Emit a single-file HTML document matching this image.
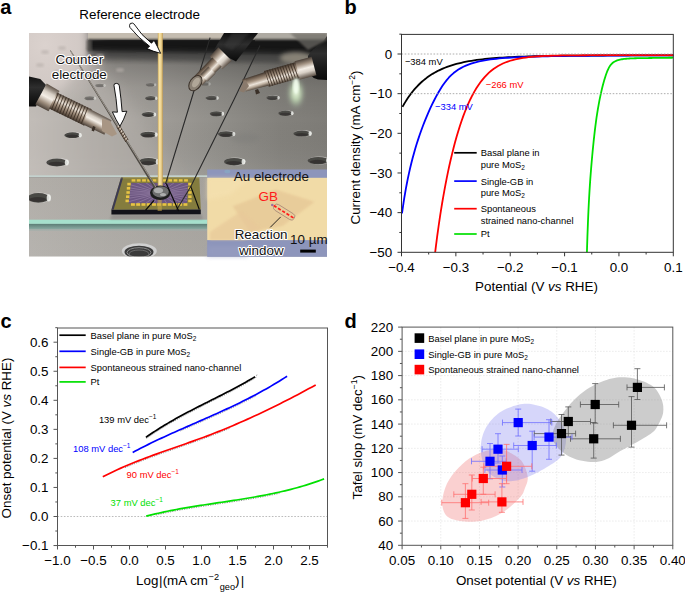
<!DOCTYPE html>
<html><head><meta charset="utf-8"><title>Figure</title>
<style>html,body{margin:0;padding:0;background:#fff;width:685px;height:592px;overflow:hidden}svg{display:block}text{font-family:"Liberation Sans",sans-serif}</style>
</head><body>
<svg width="685" height="592" viewBox="0 0 685 592" font-family="Liberation Sans, sans-serif">
<defs>
<clipPath id="pc"><rect x="29" y="33" width="298" height="223.5"/></clipPath>
<linearGradient id="midh" x1="29" y1="0" x2="327" y2="0" gradientUnits="userSpaceOnUse">
 <stop offset="0" stop-color="#bcb7b2"/><stop offset="0.2" stop-color="#aca8a3"/><stop offset="0.44" stop-color="#9f9c97"/><stop offset="0.66" stop-color="#8f8d88"/><stop offset="0.84" stop-color="#83817c"/><stop offset="1" stop-color="#7e7c77"/></linearGradient>
<linearGradient id="midv" x1="0" y1="50" x2="0" y2="176" gradientUnits="userSpaceOnUse">
 <stop offset="0" stop-color="#000" stop-opacity="0.7"/><stop offset="0.05" stop-color="#000" stop-opacity="0.42"/><stop offset="0.12" stop-color="#000" stop-opacity="0.2"/><stop offset="0.3" stop-color="#000" stop-opacity="0.07"/><stop offset="0.55" stop-color="#000" stop-opacity="0.0"/><stop offset="1" stop-color="#fff" stop-opacity="0.08"/></linearGradient>
<linearGradient id="lightw" x1="29" y1="0" x2="180" y2="0" gradientUnits="userSpaceOnUse">
 <stop offset="0" stop-color="#c6c1bc"/><stop offset="0.5" stop-color="#b7b2ad"/><stop offset="1" stop-color="#aaa6a1"/></linearGradient>
<radialGradient id="tlr" cx="45" cy="45" r="65" gradientUnits="userSpaceOnUse">
 <stop offset="0" stop-color="#dbd2ce"/><stop offset="0.45" stop-color="#d4cbc7" stop-opacity="0.8"/><stop offset="1" stop-color="#cfc7c3" stop-opacity="0"/></radialGradient>
<linearGradient id="low" x1="0" y1="176" x2="0" y2="257" gradientUnits="userSpaceOnUse">
 <stop offset="0" stop-color="#a9a59f"/><stop offset="1" stop-color="#aeaba6"/></linearGradient>
<linearGradient id="lowh" x1="29" y1="0" x2="327" y2="0" gradientUnits="userSpaceOnUse">
 <stop offset="0" stop-color="#fff" stop-opacity="0.1"/><stop offset="1" stop-color="#000" stop-opacity="0.05"/></linearGradient>
<linearGradient id="rod" x1="0" y1="0" x2="1" y2="0">
 <stop offset="0" stop-color="#c8a458"/><stop offset="0.3" stop-color="#f6e2a4"/><stop offset="0.65" stop-color="#eed594"/><stop offset="1" stop-color="#c09a50"/></linearGradient>
<linearGradient id="metal" x1="0" y1="0" x2="0" y2="1">
 <stop offset="0" stop-color="#4a3e34"/><stop offset="0.22" stop-color="#bcae9e"/><stop offset="0.38" stop-color="#ece4da"/><stop offset="0.6" stop-color="#a89684"/><stop offset="0.85" stop-color="#6a5a4c"/><stop offset="1" stop-color="#3a3028"/></linearGradient>
<linearGradient id="metal2" x1="0" y1="0" x2="0" y2="1">
 <stop offset="0" stop-color="#5a4e44"/><stop offset="0.3" stop-color="#d8d0c6"/><stop offset="0.5" stop-color="#f4eee6"/><stop offset="0.75" stop-color="#a09080"/><stop offset="1" stop-color="#4a4038"/></linearGradient>
<linearGradient id="cable" x1="0" y1="0" x2="0" y2="1">
 <stop offset="0" stop-color="#0e0e0e"/><stop offset="0.4" stop-color="#2e2e2e"/><stop offset="0.7" stop-color="#1a1a1a"/><stop offset="1" stop-color="#0a0a0a"/></linearGradient>
<radialGradient id="glow" cx="0.5" cy="0.5" r="0.5">
 <stop offset="0" stop-color="#f4ffe8"/><stop offset="0.45" stop-color="#d0ecc0" stop-opacity="0.8"/><stop offset="1" stop-color="#a0b8a0" stop-opacity="0"/></radialGradient>
<linearGradient id="gfront" x1="0" y1="0" x2="0" y2="1"><stop offset="0" stop-color="#5c7e76"/><stop offset="1" stop-color="#8caaa2"/></linearGradient>
<filter id="b05"><feGaussianBlur stdDeviation="0.5"/></filter>
<filter id="b1"><feGaussianBlur stdDeviation="1"/></filter>
<filter id="b2" x="-50%" y="-50%" width="200%" height="200%"><feGaussianBlur stdDeviation="2"/></filter>
<filter id="b4" x="-50%" y="-50%" width="200%" height="200%"><feGaussianBlur stdDeviation="4"/></filter>
<filter id="b8" x="-50%" y="-50%" width="200%" height="200%"><feGaussianBlur stdDeviation="8"/></filter>
<filter id="halo" x="-10%" y="-30%" width="120%" height="160%"><feMorphology in="SourceAlpha" operator="dilate" radius="1" result="d"/><feGaussianBlur in="d" stdDeviation="0.4" result="d2"/><feFlood flood-color="#fff"/><feComposite in2="d2" operator="in" result="w"/><feMerge><feMergeNode in="w"/><feMergeNode in="SourceGraphic"/></feMerge></filter>
<clipPath id="chipc"><path d="M131,183 L188,183 L187,203.5 L128.5,203.5 Z"/></clipPath>
</defs>
<g clip-path="url(#pc)">
<rect x="29" y="33" width="298" height="145" fill="url(#midh)"/>
<rect x="29" y="33" width="298" height="145" fill="url(#midv)"/>
<path d="M10,20 L88,20 L88,50 L100,70 L118,92 L150,130 L178,178 L10,178 Z" fill="url(#lightw)" opacity="0.6" filter="url(#b8)"/>
<path d="M20,20 L86,20 L86,60 L60,90 L20,90 Z" fill="#d2cac6" filter="url(#b4)"/>
<rect x="0" y="0" width="200" height="160" fill="url(#tlr)"/>
<rect x="29" y="176" width="298" height="81" fill="url(#low)"/>
<rect x="29" y="176" width="298" height="81" fill="url(#lowh)"/>
<rect x="88" y="33" width="239" height="7" fill="#c4bcb0"/>
<rect x="255" y="33" width="72" height="9" fill="#aeaaa2"/>
<path d="M88,39.5 L327,39.5 L327,55 L88,51 Z" fill="#161616" filter="url(#b1)"/>
<path d="M88,49 L327,52 L327,64 L88,58 Z" fill="#3e3e3c" opacity="0.55" filter="url(#b2)"/>
<path d="M86,40 L92,40 L92,52 L86,50 Z" fill="#6a6864" opacity="0.6" filter="url(#b1)"/>
<ellipse cx="296" cy="58" rx="16" ry="6" fill="#8e887c" opacity="0.9" filter="url(#b2)"/>
<ellipse cx="45" cy="52" rx="4" ry="2" fill="#b8b0ac" opacity="0.6" filter="url(#b1)"/>
<ellipse cx="62" cy="48" rx="4" ry="2" fill="#b8b0ac" opacity="0.6" filter="url(#b1)"/>
<ellipse cx="80" cy="60" rx="4" ry="2" fill="#b8b0ac" opacity="0.6" filter="url(#b1)"/>
<ellipse cx="100" cy="56" rx="4" ry="2" fill="#b8b0ac" opacity="0.6" filter="url(#b1)"/>
<ellipse cx="58" cy="72" rx="4" ry="2" fill="#b8b0ac" opacity="0.6" filter="url(#b1)"/>
<ellipse cx="40" cy="65" rx="4" ry="2" fill="#b8b0ac" opacity="0.6" filter="url(#b1)"/>
<ellipse cx="120" cy="70" rx="4" ry="2" fill="#b8b0ac" opacity="0.6" filter="url(#b1)"/>
<ellipse cx="96" cy="75" rx="4" ry="2" fill="#b8b0ac" opacity="0.6" filter="url(#b1)"/>
<g opacity="0.55"><ellipse cx="90.5" cy="98.1" rx="5.5" ry="2.2" fill="#e8e8e6" opacity="0.55" filter="url(#b05)"/><ellipse cx="89.9" cy="98.2" rx="5.3" ry="2.0" fill="#4a4845" filter="url(#b05)"/><ellipse cx="89.6" cy="98.9" rx="4.0" ry="1.1" fill="#2a2826" opacity="0.6" filter="url(#b05)"/><ellipse cx="94.9" cy="98.2" rx="1.2" ry="1.5" fill="#f2f4f0" opacity="0.85" filter="url(#b05)"/></g>
<g opacity="0.8"><ellipse cx="151.4" cy="98.1" rx="6.0" ry="2.4" fill="#e8e8e6" opacity="0.55" filter="url(#b05)"/><ellipse cx="150.8" cy="98.2" rx="5.8" ry="2.2" fill="#4a4845" filter="url(#b05)"/><ellipse cx="150.5" cy="98.9" rx="4.3" ry="1.2" fill="#2a2826" opacity="0.6" filter="url(#b05)"/><ellipse cx="156.2" cy="98.2" rx="1.2" ry="1.7" fill="#f2f4f0" opacity="0.85" filter="url(#b05)"/></g>
<g opacity="0.8"><ellipse cx="212.3" cy="97.9" rx="6.5" ry="2.4" fill="#e8e8e6" opacity="0.55" filter="url(#b05)"/><ellipse cx="211.7" cy="98.0" rx="6.2" ry="2.2" fill="#4a4845" filter="url(#b05)"/><ellipse cx="211.4" cy="98.7" rx="4.7" ry="1.2" fill="#2a2826" opacity="0.6" filter="url(#b05)"/><ellipse cx="217.5" cy="98.0" rx="1.2" ry="1.7" fill="#f2f4f0" opacity="0.85" filter="url(#b05)"/></g>
<g opacity="0.85"><ellipse cx="273.2" cy="97.7" rx="6.5" ry="2.6" fill="#e8e8e6" opacity="0.55" filter="url(#b05)"/><ellipse cx="272.6" cy="97.8" rx="6.2" ry="2.4" fill="#4a4845" filter="url(#b05)"/><ellipse cx="272.3" cy="98.6" rx="4.7" ry="1.3" fill="#2a2826" opacity="0.6" filter="url(#b05)"/><ellipse cx="278.5" cy="97.8" rx="1.2" ry="1.8" fill="#f2f4f0" opacity="0.85" filter="url(#b05)"/></g>
<g opacity="0.45"><ellipse cx="100.5" cy="85.4" rx="5.0" ry="2.0" fill="#e8e8e6" opacity="0.55" filter="url(#b05)"/><ellipse cx="100.0" cy="85.5" rx="4.8" ry="1.8" fill="#4a4845" filter="url(#b05)"/><ellipse cx="99.8" cy="86.1" rx="3.6" ry="1.0" fill="#2a2826" opacity="0.6" filter="url(#b05)"/><ellipse cx="104.5" cy="85.5" rx="1.2" ry="1.4" fill="#f2f4f0" opacity="0.85" filter="url(#b05)"/></g>
<g opacity="0.45"><ellipse cx="151.1" cy="84.7" rx="5.0" ry="2.0" fill="#e8e8e6" opacity="0.55" filter="url(#b05)"/><ellipse cx="150.6" cy="84.8" rx="4.8" ry="1.8" fill="#4a4845" filter="url(#b05)"/><ellipse cx="150.3" cy="85.4" rx="3.6" ry="1.0" fill="#2a2826" opacity="0.6" filter="url(#b05)"/><ellipse cx="155.1" cy="84.8" rx="1.2" ry="1.4" fill="#f2f4f0" opacity="0.85" filter="url(#b05)"/></g>
<g opacity="0.35"><ellipse cx="205.5" cy="83.9" rx="5.0" ry="2.0" fill="#e8e8e6" opacity="0.55" filter="url(#b05)"/><ellipse cx="205.0" cy="84.0" rx="4.8" ry="1.8" fill="#4a4845" filter="url(#b05)"/><ellipse cx="204.8" cy="84.6" rx="3.6" ry="1.0" fill="#2a2826" opacity="0.6" filter="url(#b05)"/><ellipse cx="209.5" cy="84.0" rx="1.2" ry="1.4" fill="#f2f4f0" opacity="0.85" filter="url(#b05)"/></g>
<g opacity="0.95"><ellipse cx="149.2" cy="114.4" rx="7.0" ry="2.8" fill="#e8e8e6" opacity="0.55" filter="url(#b05)"/><ellipse cx="148.5" cy="114.5" rx="6.7" ry="2.6" fill="#4a4845" filter="url(#b05)"/><ellipse cx="148.2" cy="115.3" rx="5.0" ry="1.4" fill="#2a2826" opacity="0.6" filter="url(#b05)"/><ellipse cx="154.8" cy="114.5" rx="1.3" ry="2.0" fill="#f2f4f0" opacity="0.85" filter="url(#b05)"/></g>
<g opacity="0.95"><ellipse cx="217.2" cy="113.7" rx="7.0" ry="2.8" fill="#e8e8e6" opacity="0.55" filter="url(#b05)"/><ellipse cx="216.5" cy="113.8" rx="6.7" ry="2.6" fill="#4a4845" filter="url(#b05)"/><ellipse cx="216.2" cy="114.6" rx="5.0" ry="1.4" fill="#2a2826" opacity="0.6" filter="url(#b05)"/><ellipse cx="222.8" cy="113.8" rx="1.3" ry="2.0" fill="#f2f4f0" opacity="0.85" filter="url(#b05)"/></g>
<g opacity="0.95"><ellipse cx="286.2" cy="113.2" rx="7.5" ry="2.9" fill="#e8e8e6" opacity="0.55" filter="url(#b05)"/><ellipse cx="285.5" cy="113.3" rx="7.2" ry="2.7" fill="#4a4845" filter="url(#b05)"/><ellipse cx="285.1" cy="114.2" rx="5.4" ry="1.4" fill="#2a2826" opacity="0.6" filter="url(#b05)"/><ellipse cx="292.2" cy="113.3" rx="1.3" ry="2.0" fill="#f2f4f0" opacity="0.85" filter="url(#b05)"/></g>
<g opacity="1"><ellipse cx="73.3" cy="135.0" rx="8.5" ry="3.2" fill="#e8e8e6" opacity="0.55" filter="url(#b05)"/><ellipse cx="72.5" cy="135.2" rx="8.2" ry="2.9" fill="#4a4845" filter="url(#b05)"/><ellipse cx="72.1" cy="136.2" rx="6.1" ry="1.6" fill="#2a2826" opacity="0.6" filter="url(#b05)"/><ellipse cx="80.2" cy="135.2" rx="1.5" ry="2.2" fill="#f2f4f0" opacity="0.85" filter="url(#b05)"/></g>
<g opacity="1"><ellipse cx="149.3" cy="134.4" rx="8.5" ry="3.2" fill="#e8e8e6" opacity="0.55" filter="url(#b05)"/><ellipse cx="148.5" cy="134.6" rx="8.2" ry="2.9" fill="#4a4845" filter="url(#b05)"/><ellipse cx="148.1" cy="135.6" rx="6.1" ry="1.6" fill="#2a2826" opacity="0.6" filter="url(#b05)"/><ellipse cx="156.2" cy="134.6" rx="1.5" ry="2.2" fill="#f2f4f0" opacity="0.85" filter="url(#b05)"/></g>
<g opacity="1"><ellipse cx="226.9" cy="133.9" rx="8.5" ry="3.2" fill="#e8e8e6" opacity="0.55" filter="url(#b05)"/><ellipse cx="226.1" cy="134.1" rx="8.2" ry="2.9" fill="#4a4845" filter="url(#b05)"/><ellipse cx="225.7" cy="135.1" rx="6.1" ry="1.6" fill="#2a2826" opacity="0.6" filter="url(#b05)"/><ellipse cx="233.8" cy="134.1" rx="1.5" ry="2.2" fill="#f2f4f0" opacity="0.85" filter="url(#b05)"/></g>
<g opacity="1"><ellipse cx="302.9" cy="133.4" rx="9.0" ry="3.3" fill="#e8e8e6" opacity="0.55" filter="url(#b05)"/><ellipse cx="302.0" cy="133.6" rx="8.6" ry="3.0" fill="#4a4845" filter="url(#b05)"/><ellipse cx="301.6" cy="134.6" rx="6.5" ry="1.6" fill="#2a2826" opacity="0.6" filter="url(#b05)"/><ellipse cx="310.1" cy="133.6" rx="1.6" ry="2.3" fill="#f2f4f0" opacity="0.85" filter="url(#b05)"/></g>
<g opacity="1"><ellipse cx="58.0" cy="162.3" rx="11.0" ry="4.2" fill="#e8e8e6" opacity="0.55" filter="url(#b05)"/><ellipse cx="56.9" cy="162.5" rx="10.6" ry="3.9" fill="#4a4845" filter="url(#b05)"/><ellipse cx="56.4" cy="163.8" rx="7.9" ry="2.1" fill="#2a2826" opacity="0.6" filter="url(#b05)"/><ellipse cx="66.8" cy="162.5" rx="2.0" ry="2.9" fill="#f2f4f0" opacity="0.85" filter="url(#b05)"/></g>
<g opacity="1"><ellipse cx="149.5" cy="161.5" rx="10.0" ry="4.0" fill="#e8e8e6" opacity="0.55" filter="url(#b05)"/><ellipse cx="148.5" cy="161.7" rx="9.6" ry="3.7" fill="#4a4845" filter="url(#b05)"/><ellipse cx="148.0" cy="162.9" rx="7.2" ry="2.0" fill="#2a2826" opacity="0.6" filter="url(#b05)"/><ellipse cx="157.5" cy="161.7" rx="1.8" ry="2.8" fill="#f2f4f0" opacity="0.85" filter="url(#b05)"/></g>
<g opacity="1"><ellipse cx="235.2" cy="161.5" rx="10.5" ry="4.0" fill="#e8e8e6" opacity="0.55" filter="url(#b05)"/><ellipse cx="234.1" cy="161.7" rx="10.1" ry="3.7" fill="#4a4845" filter="url(#b05)"/><ellipse cx="233.6" cy="162.9" rx="7.6" ry="2.0" fill="#2a2826" opacity="0.6" filter="url(#b05)"/><ellipse cx="243.5" cy="161.7" rx="1.9" ry="2.8" fill="#f2f4f0" opacity="0.85" filter="url(#b05)"/></g>
<g opacity="1"><ellipse cx="319.3" cy="160.4" rx="11.0" ry="4.0" fill="#e8e8e6" opacity="0.55" filter="url(#b05)"/><ellipse cx="318.2" cy="160.6" rx="10.6" ry="3.7" fill="#4a4845" filter="url(#b05)"/><ellipse cx="317.6" cy="161.8" rx="7.9" ry="2.0" fill="#2a2826" opacity="0.6" filter="url(#b05)"/><ellipse cx="328.1" cy="160.6" rx="2.0" ry="2.8" fill="#f2f4f0" opacity="0.85" filter="url(#b05)"/></g>
<g opacity="1"><ellipse cx="39.5" cy="197.6" rx="11.5" ry="5.2" fill="#e8e8e6" opacity="0.55" filter="url(#b05)"/><ellipse cx="38.4" cy="197.9" rx="11.0" ry="4.8" fill="#4a4845" filter="url(#b05)"/><ellipse cx="37.8" cy="199.5" rx="8.3" ry="2.6" fill="#2a2826" opacity="0.6" filter="url(#b05)"/><ellipse cx="48.8" cy="197.9" rx="2.1" ry="3.6" fill="#f2f4f0" opacity="0.85" filter="url(#b05)"/></g>
<ellipse cx="245" cy="138" rx="14" ry="5" fill="#7a7a78" opacity="0.35" filter="url(#b2)"/>
<g filter="url(#b05)"><ellipse cx="139.3" cy="251" rx="17.5" ry="7.8" fill="#d0d0d0"/><ellipse cx="139" cy="252" rx="14.5" ry="6.2" fill="#3a3a3a"/><ellipse cx="139" cy="252.5" rx="12" ry="4.8" fill="none" stroke="#8a8a8a" stroke-width="1"/><ellipse cx="139" cy="254" rx="10" ry="4" fill="none" stroke="#777" stroke-width="0.8"/></g>
<rect x="29" y="175.3" width="298" height="1.7" fill="#c4d2ce"/>
<rect x="29" y="177" width="298" height="1" fill="#9a9a98" opacity="0.5"/>
<rect x="29" y="219.7" width="298" height="4.2" fill="#a6e0cc"/>
<rect x="29" y="223.9" width="298" height="5.3" fill="url(#gfront)"/>
<rect x="29" y="229.2" width="298" height="1.5" fill="#9cadaa" opacity="0.7"/>
<path d="M112,214 L201,214 L203,219.5 L110,219.5 Z" fill="#6a6a6a" opacity="0.35" filter="url(#b1)"/>
<path d="M111.4,209.8 L121.1,177.3 L199.3,177.3 L200.8,209.5 Z" fill="#847c3e"/>
<path d="M111.4,209.8 L200.8,209.5 L200.8,214.2 L111.4,214.5 Z" fill="#13131a"/>
<path d="M111.4,209.8 L121.1,177.3 L123.2,177.3 L113.6,209.8 Z" fill="#3c3a52"/>
<path d="M121.1,177.3 L199.3,177.3 L199.3,178.3 L121,178.3 Z" fill="#b0a870" opacity="0.7"/>
<path d="M131,183 L188,183 L187,203.5 L128.5,203.5 Z" fill="#6c5680"/>
<path d="M160,193 L200.0,193.0 M160,193 L199.0,196.1 M160,193 L196.0,199.1 M160,193 L191.3,201.7 M160,193 L184.9,203.9 M160,193 L177.4,205.6 M160,193 L168.9,206.6 M160,193 L160.0,207.0 M160,193 L151.1,206.6 M160,193 L142.6,205.6 M160,193 L135.1,203.9 M160,193 L128.7,201.7 M160,193 L124.0,199.1 M160,193 L121.0,196.1 M160,193 L120.0,193.0 M160,193 L121.0,189.9 M160,193 L124.0,186.9 M160,193 L128.7,184.3 M160,193 L135.1,182.1 M160,193 L142.6,180.4 M160,193 L151.1,179.4 M160,193 L160.0,179.0 M160,193 L168.9,179.4 M160,193 L177.4,180.4 M160,193 L184.9,182.1 M160,193 L191.3,184.3 M160,193 L196.0,186.9 M160,193 L199.0,189.9" stroke="#9a84aa" stroke-width="0.6" clip-path="url(#chipc)"/>
<rect x="131.6" y="179.2" width="3.8" height="2.4" fill="#e8c444"/><rect x="131.0" y="203.2" width="3.9" height="2.6" fill="#e8c444"/><rect x="136.8" y="179.2" width="3.8" height="2.4" fill="#e8c444"/><rect x="136.2" y="203.2" width="3.9" height="2.6" fill="#e8c444"/><rect x="142.1" y="179.2" width="3.8" height="2.4" fill="#e8c444"/><rect x="141.5" y="203.2" width="3.9" height="2.6" fill="#e8c444"/><rect x="147.3" y="179.2" width="3.8" height="2.4" fill="#e8c444"/><rect x="146.8" y="203.2" width="3.9" height="2.6" fill="#e8c444"/><rect x="152.6" y="179.2" width="3.8" height="2.4" fill="#e8c444"/><rect x="152.0" y="203.2" width="3.9" height="2.6" fill="#e8c444"/><rect x="157.8" y="179.2" width="3.8" height="2.4" fill="#e8c444"/><rect x="157.2" y="203.2" width="3.9" height="2.6" fill="#e8c444"/><rect x="163.1" y="179.2" width="3.8" height="2.4" fill="#e8c444"/><rect x="162.5" y="203.2" width="3.9" height="2.6" fill="#e8c444"/><rect x="168.3" y="179.2" width="3.8" height="2.4" fill="#e8c444"/><rect x="167.8" y="203.2" width="3.9" height="2.6" fill="#e8c444"/><rect x="173.6" y="179.2" width="3.8" height="2.4" fill="#e8c444"/><rect x="173.0" y="203.2" width="3.9" height="2.6" fill="#e8c444"/><rect x="178.8" y="179.2" width="3.8" height="2.4" fill="#e8c444"/><rect x="178.2" y="203.2" width="3.9" height="2.6" fill="#e8c444"/><rect x="184.1" y="179.2" width="3.8" height="2.4" fill="#e8c444"/><rect x="183.5" y="203.2" width="3.9" height="2.6" fill="#e8c444"/><rect x="127.3" y="182.8" width="3.4" height="2.6" fill="#e8c444"/><rect x="188.2" y="182.8" width="3.4" height="2.6" fill="#e8c444"/><rect x="126.8" y="187.0" width="3.4" height="2.6" fill="#e8c444"/><rect x="188.2" y="187.0" width="3.4" height="2.6" fill="#e8c444"/><rect x="126.4" y="191.2" width="3.4" height="2.6" fill="#e8c444"/><rect x="188.2" y="191.2" width="3.4" height="2.6" fill="#e8c444"/><rect x="126.0" y="195.4" width="3.4" height="2.6" fill="#e8c444"/><rect x="188.2" y="195.4" width="3.4" height="2.6" fill="#e8c444"/><rect x="125.5" y="199.6" width="3.4" height="2.6" fill="#e8c444"/><rect x="188.2" y="199.6" width="3.4" height="2.6" fill="#e8c444"/>
<rect x="157.8" y="33" width="5" height="156" fill="url(#rod)"/>
<rect x="157.6" y="186" width="4.2" height="25" fill="#c8a848" opacity="0.55"/>
<ellipse cx="160.2" cy="192.8" rx="10.2" ry="7.2" fill="#1e1e1e"/>
<ellipse cx="160.6" cy="191.8" rx="8.2" ry="5.6" fill="#6e6e6e"/>
<ellipse cx="158.5" cy="190.5" rx="4.5" ry="2.8" fill="#b8b8b8" opacity="0.85"/>
<ellipse cx="163" cy="194.5" rx="3" ry="1.6" fill="#d8d8d8" opacity="0.6"/>
<path d="M210.1,37.7 L191.2,100 L165.5,184" stroke="#2a2a2a" stroke-width="1.1" fill="none"/>
<path d="M260,45.4 L233.8,100 L190.8,186.5 L176.5,210" stroke="#2a2a2a" stroke-width="1.1" fill="none"/>
<path d="M154,200.3 L145.6,210.2" stroke="#0a0a0a" stroke-width="1.3"/>
<path d="M166.3,183.4 L178.6,211" stroke="#0a0a0a" stroke-width="1.2"/>
<path d="M190.8,186.5 L199.3,209.5" stroke="#0a0a0a" stroke-width="1.1"/>
<path d="M69.8,50.4 L70.9,50.4 L157.2,188 L154.0,188 Z" fill="#4e4a44"/>
<path d="M70.6,51 L156.2,187.5" stroke="#b8b0a6" stroke-width="0.7" fill="none"/>
<g transform="translate(118.0,126.0) rotate(59.0)"><rect x="0" y="-1.8" width="17.5" height="3.6" fill="url(#metal)"/><path d="M1.5,-1.8 L2.7,1.8 M4.4,-1.8 L5.6,1.8 M7.3,-1.8 L8.5,1.8 M10.2,-1.8 L11.4,1.8 M13.1,-1.8 L14.3,1.8 M16.0,-1.8 L17.2,1.8" stroke="#3a2e24" stroke-width="1" opacity="0.85"/></g>
<path d="M20,74.6 L40.3,79 L46,85 L36,106.5 L20,106.5 Z" fill="url(#cable)"/>
<g transform="translate(41.0,94.0) rotate(28.3)"><path d="M0,-12 L14.8,-11.5 L14.8,11.5 L0,12 Z" fill="url(#metal2)"/></g>
<g transform="translate(53.0,100.5) rotate(25.9)"><rect x="0" y="-9" width="38.9" height="18" fill="url(#metal)"/><path d="M1.5,-9 L2.7,9 M4.5,-9 L5.7,9 M7.5,-9 L8.7,9 M10.5,-9 L11.7,9 M13.5,-9 L14.7,9 M16.5,-9 L17.7,9 M19.5,-9 L20.7,9 M22.4,-9 L23.6,9 M25.4,-9 L26.6,9 M28.4,-9 L29.6,9 M31.4,-9 L32.6,9 M34.4,-9 L35.6,9 M37.4,-9 L38.6,9" stroke="#3a2e24" stroke-width="1" opacity="0.85"/></g>
<g transform="translate(86.0,116.5) rotate(26.6)"><path d="M0,-8.5 L24.6,-8 L24.6,8 L0,8.5 Z" fill="url(#metal2)"/></g>
<path d="M102,118.5 L110,121 L117,134 L112,136.5 L102,131 Z" fill="#a89684"/>
<path d="M93,126 L95.5,127 L94,131.5 L91.5,130.5 Z" fill="#3a3028"/>
<path d="M224,33 L258,33 L236,61.5 L214,50 Z" fill="url(#cable)"/>
<path d="M232,33 L250,33 L232,50 L224,46 Z" fill="#3a3a3a" opacity="0.5" filter="url(#b1)"/>
<g transform="translate(225.0,54.0) rotate(135.0)"><path d="M0,-9.5 L12.7,-9 L12.7,9 L0,9.5 Z" fill="url(#metal2)"/></g>
<g transform="translate(217.0,62.0) rotate(135.0)"><path d="M0,-6.5 L26.9,-6 L26.9,6 L0,6.5 Z" fill="url(#metal)"/></g>
<g transform="translate(212.0,70.0) rotate(135.0)"><path d="M0,-5 L11.3,-5 L11.3,5 L0,5 Z" fill="url(#metal2)"/></g>
<ellipse cx="195.4" cy="83.2" rx="5.5" ry="8.5" transform="rotate(35 195.4 83.2)" fill="#8a8074" stroke="#3a3028" stroke-width="1"/>
<ellipse cx="196" cy="82.5" rx="3" ry="5.5" transform="rotate(35 196 82.5)" fill="#b0a698"/>
<path d="M327,36 L327,80 L318,79.5 Q308,77 308,68 L308,56 Q312,49 321,44 Z" fill="url(#cable)"/>
<path d="M290,33 L327,33 L327,40 L308,50 Z" fill="#6e6c66" opacity="0.7" filter="url(#b1)"/>
<g transform="translate(314.0,66.0) rotate(165.2)"><path d="M0,-9.5 L17.6,-9.5 L17.6,9.5 L0,9.5 Z" fill="url(#metal2)"/></g>
<g transform="translate(297.5,70.2) rotate(164.5)"><rect x="0" y="-8.2" width="32.2" height="16.4" fill="url(#metal)"/><path d="M1.3,-8.2 L2.5,8.2 M4.0,-8.2 L5.2,8.2 M6.7,-8.2 L7.9,8.2 M9.4,-8.2 L10.6,8.2 M12.1,-8.2 L13.3,8.2 M14.7,-8.2 L15.9,8.2 M17.4,-8.2 L18.6,8.2 M20.1,-8.2 L21.3,8.2 M22.8,-8.2 L24.0,8.2 M25.5,-8.2 L26.7,8.2 M28.1,-8.2 L29.3,8.2 M30.8,-8.2 L32.0,8.2" stroke="#3a2e24" stroke-width="1" opacity="0.85"/></g>
<g transform="translate(267.0,78.7) rotate(163.5)"><path d="M0,-7 L24.0,-6.2 L24.0,6.2 L0,7 Z" fill="url(#metal)"/></g>
<path d="M245,79.5 L239,91 L244,92.5 L249,86 Z" fill="#8a7a6c"/>
<path d="M258,89 L260,93 L256,94.5 L255,90 Z" fill="#3a3028"/>
<ellipse cx="296" cy="93" rx="9" ry="16" fill="url(#glow)" filter="url(#b2)"/>
<ellipse cx="296" cy="86" rx="3.2" ry="8" fill="#f4fff0" opacity="0.9" filter="url(#b1)"/>
</g>
<rect x="207.2" y="169.5" width="119.8" height="87.3" fill="#8d95bb"/>
<rect x="207.2" y="177.8" width="119.8" height="62.3" fill="#f1dba7"/>
<path d="M232.7,206.3 L275.5,189.4 L314.6,201.8 L282.6,226 L250,232 Z" fill="#e6c796" opacity="0.75" filter="url(#b1)"/>
<path d="M210,232 L241.6,210.7 L262,228 L245,240 L210,240 Z" fill="#e8c99a" opacity="0.7" filter="url(#b1)"/>
<path d="M207,178 L250,178 L230,195 L207,200 Z" fill="#f5e2b2" opacity="0.6" filter="url(#b2)"/>
<ellipse cx="227.4" cy="171.5" rx="3" ry="1.8" fill="#80c0d0" opacity="0.35" filter="url(#b05)"/>
<rect x="207.2" y="246" width="40" height="11" fill="#9aa0c2" opacity="0.5" filter="url(#b2)"/>
<circle cx="272.3" cy="205" r="1.3" fill="#9a70a0"/>
<text x="233.8" y="180.5" font-size="13.4" fill="#111">Au electrode</text>
<text x="258.5" y="201.4" font-size="13.4" fill="#ff1a1a">GB</text>
<g transform="translate(284.2,212.1) rotate(32)"><rect x="-11.8" y="-3.4" width="23.6" height="6.8" rx="3.2" fill="none" stroke="#a88878" stroke-width="0.8"/><line x1="-12.3" y1="0" x2="12.3" y2="0" stroke="#ff1a1a" stroke-width="1.7" stroke-dasharray="3.2,1.8"/></g>
<line x1="270.2" y1="227.4" x2="280.7" y2="216.9" stroke="#111" stroke-width="0.9"/>
<text x="234.7" y="238.8" font-size="13.4" fill="#111" stroke="#fff" stroke-width="2.2" stroke-linejoin="round" paint-order="stroke">Reaction</text>
<text x="238.9" y="254.9" font-size="13.4" fill="#111" stroke="#fff" stroke-width="2.2" stroke-linejoin="round" paint-order="stroke">window</text>
<text x="290.1" y="243.5" font-size="13.4" fill="#111">10 µm</text>
<rect x="300.2" y="249.6" width="15.6" height="3" fill="#000"/>
<text x="55.5" y="63.5" font-size="13.4" fill="#111" stroke="#fff" stroke-width="2.2" stroke-linejoin="round" paint-order="stroke">Counter</text>
<text x="51.7" y="78.7" font-size="13.4" fill="#111" stroke="#fff" stroke-width="2.2" stroke-linejoin="round" paint-order="stroke">electrode</text>
<path d="M114,85.5 Q113.6,83.4 116.4,83.4 Q119.2,83.4 119.3,85.8 Q121.2,99 122.1,111.6 L126.8,111.2 Q124,119.5 119.9,126.3 Q115.8,119.6 112.4,111.9 L117.4,112.2 Q116.4,98.5 114,85.5 Z" fill="#fff" stroke="#000" stroke-width="0.9" stroke-linejoin="round"/>
<path d="M129.5,25.5 Q129.6,22.6 132.6,23.1 Q134,23.6 134.8,25 Q141,35 151.5,43.2 L154.1,40.3 Q157.5,46.5 160.6,53.3 Q153.5,51.6 146.8,48.6 L149.6,46.3 Q137.5,37 129.9,27.4 Z" fill="#fff" stroke="#000" stroke-width="0.9" stroke-linejoin="round"/>
<clipPath id="bclip"><rect x="401.5" y="34.4" width="271.79999999999995" height="217.9"/></clipPath>
<g clip-path="url(#bclip)"><g transform="translate(1.0,0.8)">
<path d="M401.50,106.07 L401.67,105.75 L402.03,105.12 L402.51,104.27 L403.10,103.25 L403.79,102.09 L404.56,100.81 L405.42,99.45 L406.35,98.01 L407.36,96.51 L408.44,94.97 L409.58,93.41 L410.79,91.82 L412.06,90.23 L413.39,88.63 L414.77,87.05 L416.22,85.49 L417.72,83.95 L419.27,82.44 L420.87,80.97 L422.53,79.54 L424.24,78.15 L426.00,76.80 L427.80,75.51 L429.66,74.26 L431.56,73.06 L433.50,71.91 L435.50,70.82 L437.53,69.77 L439.61,68.78 L441.74,67.84 L443.90,66.94 L446.11,66.10 L448.37,65.30 L450.66,64.55 L452.99,63.84 L455.37,63.17 L457.78,62.55 L460.23,61.96 L462.73,61.41 L465.26,60.90 L467.83,60.42 L470.43,59.98 L473.08,59.56 L475.76,59.17 L478.48,58.81 L481.23,58.48 L484.03,58.17 L486.85,57.88 L489.72,57.61 L492.61,57.36 L495.55,57.13 L498.51,56.92 L501.52,56.73 L504.55,56.55 L507.62,56.38 L510.73,56.23 L513.87,56.09 L517.04,55.96 L520.24,55.84 L523.48,55.73 L526.75,55.62 L530.05,55.53 L533.38,55.45 L536.74,55.37 L540.14,55.30 L543.57,55.23 L547.03,55.17 L550.52,55.11 L554.04,55.06 L557.60,55.01 L561.18,54.97 L564.79,54.93 L568.44,54.90 L572.11,54.86 L575.81,54.83 L579.55,54.80 L583.31,54.78 L587.10,54.76 L590.92,54.73 L594.78,54.72 L598.66,54.70 L602.56,54.68 L606.50,54.67 L610.47,54.65 L614.46,54.64 L618.49,54.63 L622.54,54.62 L626.62,54.61 L630.72,54.60 L634.86,54.59 L639.02,54.58 L643.21,54.58 L647.43,54.57 L651.67,54.56 L655.94,54.56 L660.24,54.55 L664.57,54.55 L668.92,54.55 L673.30,54.54" fill="none" stroke="#000000" stroke-width="1.8" stroke-linejoin="round"/>
<path d="M401.00,212.65 L401.17,211.37 L401.53,208.82 L402.01,205.47 L402.60,201.54 L403.29,197.17 L404.07,192.51 L404.93,187.64 L405.86,182.66 L406.87,177.60 L407.95,172.54 L409.10,167.49 L410.31,162.48 L411.58,157.51 L412.91,152.61 L414.30,147.77 L415.74,143.00 L417.25,138.31 L418.80,133.69 L420.41,129.16 L422.07,124.69 L423.78,120.31 L425.54,116.01 L427.35,111.79 L429.21,107.66 L431.11,103.63 L433.06,99.70 L435.06,95.89 L437.10,92.20 L439.18,88.66 L441.31,85.30 L443.48,82.18 L445.70,79.30 L447.95,76.69 L450.25,74.36 L452.59,72.28 L454.97,70.43 L457.38,68.78 L459.84,67.31 L462.34,66.00 L464.87,64.84 L467.45,63.80 L470.06,62.88 L472.71,62.05 L475.40,61.32 L478.12,60.67 L480.88,60.08 L483.68,59.56 L486.51,59.09 L489.38,58.68 L492.28,58.30 L495.22,57.97 L498.19,57.66 L501.20,57.39 L504.24,57.15 L507.32,56.93 L510.43,56.73 L513.57,56.55 L516.75,56.39 L519.96,56.24 L523.20,56.11 L526.48,55.99 L529.78,55.88 L533.12,55.78 L536.49,55.68 L539.90,55.60 L543.33,55.52 L546.80,55.45 L550.30,55.38 L553.82,55.32 L557.38,55.26 L560.97,55.21 L564.59,55.16 L568.24,55.12 L571.92,55.07 L575.63,55.03 L579.37,55.00 L583.14,54.96 L586.94,54.93 L590.77,54.90 L594.63,54.87 L598.52,54.84 L602.43,54.81 L606.38,54.79 L610.35,54.77 L614.35,54.74 L618.38,54.72 L622.44,54.70 L626.53,54.68 L630.64,54.67 L634.79,54.65 L638.96,54.63 L643.15,54.62 L647.38,54.61 L651.63,54.59 L655.91,54.58 L660.22,54.57 L664.55,54.56 L668.91,54.55 L673.30,54.55" fill="none" stroke="#0000ff" stroke-width="1.8" stroke-linejoin="round"/>
<path d="M434.10,252.10 L434.25,250.83 L434.56,248.28 L434.99,244.87 L435.51,240.78 L436.11,236.16 L436.80,231.10 L437.55,225.70 L438.37,220.03 L439.26,214.14 L440.21,208.10 L441.21,201.96 L442.27,195.75 L443.39,189.50 L444.56,183.26 L445.78,177.04 L447.05,170.87 L448.37,164.76 L449.74,158.73 L451.15,152.79 L452.61,146.97 L454.11,141.29 L455.66,135.75 L457.25,130.38 L458.88,125.18 L460.55,120.17 L462.26,115.36 L464.02,110.75 L465.81,106.34 L467.64,102.15 L469.51,98.17 L471.42,94.40 L473.36,90.85 L475.34,87.52 L477.36,84.40 L479.42,81.49 L481.51,78.79 L483.63,76.30 L485.79,74.00 L487.98,71.89 L490.21,69.97 L492.47,68.22 L494.77,66.63 L497.09,65.19 L499.45,63.90 L501.85,62.74 L504.27,61.70 L506.73,60.78 L509.22,59.96 L511.74,59.23 L514.29,58.59 L516.87,58.03 L519.48,57.53 L522.12,57.10 L524.79,56.72 L527.50,56.39 L530.23,56.10 L532.99,55.85 L535.78,55.64 L538.60,55.45 L541.45,55.29 L544.32,55.16 L547.23,55.04 L550.16,54.94 L553.12,54.85 L556.11,54.77 L559.13,54.71 L562.18,54.66 L565.25,54.61 L568.35,54.57 L571.47,54.53 L574.63,54.51 L577.81,54.48 L581.01,54.46 L584.25,54.44 L587.51,54.42 L590.79,54.41 L594.10,54.40 L597.44,54.39 L600.80,54.38 L604.19,54.37 L607.61,54.37 L611.05,54.36 L614.51,54.36 L618.00,54.36 L621.52,54.35 L625.06,54.35 L628.63,54.35 L632.21,54.35 L635.83,54.35 L639.47,54.35 L643.13,54.35 L646.82,54.35 L650.53,54.35 L654.27,54.36 L658.03,54.36 L661.81,54.37 L665.62,54.37 L669.45,54.38 L673.30,54.40" fill="none" stroke="#ff0000" stroke-width="1.8" stroke-linejoin="round"/>
<path d="M585.90,252.23 L585.96,250.31 L586.07,246.51 L586.23,241.57 L586.41,235.84 L586.64,229.61 L586.89,223.08 L587.16,216.41 L587.46,209.72 L587.78,203.12 L588.13,196.65 L588.50,190.36 L588.89,184.27 L589.29,178.37 L589.72,172.65 L590.17,167.08 L590.63,161.63 L591.11,156.24 L591.61,150.89 L592.13,145.59 L592.66,140.36 L593.21,135.26 L593.78,130.31 L594.36,125.54 L594.95,120.98 L595.56,116.63 L596.19,112.48 L596.83,108.52 L597.49,104.73 L598.16,101.10 L598.84,97.62 L599.54,94.27 L600.25,91.06 L600.97,87.98 L601.71,85.03 L602.46,82.20 L603.22,79.50 L604.00,76.94 L604.79,74.51 L605.59,72.24 L606.40,70.13 L607.23,68.24 L608.07,66.60 L608.92,65.20 L609.78,64.03 L610.65,63.05 L611.54,62.22 L612.44,61.52 L613.35,60.92 L614.27,60.42 L615.20,59.99 L616.14,59.62 L617.10,59.31 L618.06,59.04 L619.04,58.81 L620.03,58.61 L621.02,58.44 L622.03,58.29 L623.05,58.16 L624.08,58.04 L625.12,57.94 L626.17,57.86 L627.24,57.78 L628.31,57.71 L629.39,57.65 L630.48,57.60 L631.58,57.55 L632.70,57.51 L633.82,57.47 L634.95,57.44 L636.09,57.41 L637.25,57.38 L638.41,57.36 L639.58,57.34 L640.76,57.31 L641.95,57.30 L643.15,57.28 L644.36,57.26 L645.58,57.24 L646.81,57.23 L648.05,57.21 L649.30,57.20 L650.55,57.18 L651.82,57.17 L653.10,57.15 L654.38,57.14 L655.67,57.12 L656.98,57.11 L658.29,57.09 L659.61,57.07 L660.94,57.06 L662.28,57.04 L663.62,57.02 L664.98,57.00 L666.35,56.99 L667.72,56.97 L669.10,56.95 L670.49,56.94 L671.89,56.92 L673.30,56.90" fill="none" stroke="#00e000" stroke-width="1.8" stroke-linejoin="round"/>
</g></g>
<line x1="401.5" y1="54.0" x2="673.3" y2="54.0" stroke="#999" stroke-width="0.8" stroke-dasharray="1.6,1.6"/>
<line x1="401.5" y1="93.66" x2="673.3" y2="93.66" stroke="#999" stroke-width="0.8" stroke-dasharray="1.6,1.6"/>
<rect x="401.5" y="34.4" width="271.79999999999995" height="217.9" fill="none" stroke="#333" stroke-width="1"/>
<line x1="397.5" y1="252.30" x2="401.5" y2="252.30" stroke="#333" stroke-width="1"/>
<text x="392.2" y="256.90" font-size="13.4" text-anchor="end">−50</text>
<line x1="399.3" y1="232.47" x2="401.5" y2="232.47" stroke="#333" stroke-width="1"/>
<line x1="397.5" y1="212.64" x2="401.5" y2="212.64" stroke="#333" stroke-width="1"/>
<text x="392.2" y="217.24" font-size="13.4" text-anchor="end">−40</text>
<line x1="399.3" y1="192.81" x2="401.5" y2="192.81" stroke="#333" stroke-width="1"/>
<line x1="397.5" y1="172.98" x2="401.5" y2="172.98" stroke="#333" stroke-width="1"/>
<text x="392.2" y="177.58" font-size="13.4" text-anchor="end">−30</text>
<line x1="399.3" y1="153.15" x2="401.5" y2="153.15" stroke="#333" stroke-width="1"/>
<line x1="397.5" y1="133.32" x2="401.5" y2="133.32" stroke="#333" stroke-width="1"/>
<text x="392.2" y="137.92" font-size="13.4" text-anchor="end">−20</text>
<line x1="399.3" y1="113.49" x2="401.5" y2="113.49" stroke="#333" stroke-width="1"/>
<line x1="397.5" y1="93.66" x2="401.5" y2="93.66" stroke="#333" stroke-width="1"/>
<text x="392.2" y="98.26" font-size="13.4" text-anchor="end">−10</text>
<line x1="399.3" y1="73.83" x2="401.5" y2="73.83" stroke="#333" stroke-width="1"/>
<line x1="397.5" y1="54.00" x2="401.5" y2="54.00" stroke="#333" stroke-width="1"/>
<text x="392.2" y="58.60" font-size="13.4" text-anchor="end">0</text>
<line x1="399.3" y1="34.17" x2="401.5" y2="34.17" stroke="#333" stroke-width="1"/>
<line x1="401.50" y1="252.3" x2="401.50" y2="256.3" stroke="#333" stroke-width="1"/>
<text x="401.50" y="272.0" font-size="13.4" text-anchor="middle">−0.4</text>
<line x1="428.68" y1="252.3" x2="428.68" y2="254.5" stroke="#333" stroke-width="1"/>
<line x1="455.86" y1="252.3" x2="455.86" y2="256.3" stroke="#333" stroke-width="1"/>
<text x="455.86" y="272.0" font-size="13.4" text-anchor="middle">−0.3</text>
<line x1="483.04" y1="252.3" x2="483.04" y2="254.5" stroke="#333" stroke-width="1"/>
<line x1="510.22" y1="252.3" x2="510.22" y2="256.3" stroke="#333" stroke-width="1"/>
<text x="510.22" y="272.0" font-size="13.4" text-anchor="middle">−0.2</text>
<line x1="537.40" y1="252.3" x2="537.40" y2="254.5" stroke="#333" stroke-width="1"/>
<line x1="564.58" y1="252.3" x2="564.58" y2="256.3" stroke="#333" stroke-width="1"/>
<text x="564.58" y="272.0" font-size="13.4" text-anchor="middle">−0.1</text>
<line x1="591.76" y1="252.3" x2="591.76" y2="254.5" stroke="#333" stroke-width="1"/>
<line x1="618.94" y1="252.3" x2="618.94" y2="256.3" stroke="#333" stroke-width="1"/>
<text x="618.94" y="272.0" font-size="13.4" text-anchor="middle">0.0</text>
<line x1="646.12" y1="252.3" x2="646.12" y2="254.5" stroke="#333" stroke-width="1"/>
<line x1="673.30" y1="252.3" x2="673.30" y2="256.3" stroke="#333" stroke-width="1"/>
<text x="673.30" y="272.0" font-size="13.4" text-anchor="middle">0.1</text>
<text x="404.9" y="64.6" font-size="9.4" fill="#000">−384 mV</text>
<text x="435.1" y="110.4" font-size="9.4" fill="#0000ff">−334 mV</text>
<text x="485.7" y="88.3" font-size="9.4" fill="#ff0000">−266 mV</text>
<line x1="454.2" y1="152.8" x2="476.7" y2="152.8" stroke="#000" stroke-width="1.7"/>
<text x="480.7" y="156.2" font-size="9.4">Basal plane in</text>
<text x="480.7" y="167.6" font-size="9.4">pure MoS<tspan font-size="6.5" dy="2.2">2</tspan></text>
<line x1="454.2" y1="181.1" x2="476.7" y2="181.1" stroke="#0000ff" stroke-width="1.7"/>
<text x="480.7" y="184.5" font-size="9.4">Single-GB in</text>
<text x="480.7" y="195.9" font-size="9.4">pure MoS<tspan font-size="6.5" dy="2.2">2</tspan></text>
<line x1="454.2" y1="208.7" x2="476.7" y2="208.7" stroke="#ff0000" stroke-width="1.7"/>
<text x="480.7" y="212.1" font-size="9.4">Spontaneous</text>
<text x="480.7" y="223.5" font-size="9.4">strained nano-channel</text>
<line x1="454.2" y1="234.0" x2="476.7" y2="234.0" stroke="#00e000" stroke-width="1.7"/>
<text x="480.7" y="237.4" font-size="9.4">Pt</text>
<text x="536.5" y="291" font-size="13.4" text-anchor="middle">Potential (V <tspan font-style="italic">vs</tspan> RHE)</text>
<text transform="translate(359.8,147.5) rotate(-90)" font-size="13.4" text-anchor="middle">Current density (mA cm<tspan font-size="8.5" dy="-5">−2</tspan><tspan dy="5">)</tspan></text>
<line x1="57.5" y1="516.5" x2="327.5" y2="516.5" stroke="#aaa" stroke-width="0.8" stroke-dasharray="1.6,1.6"/>
<path d="M155.25,513.91 L158.26,513.22 L161.28,512.55 L164.29,511.90 L167.31,511.28 L170.32,510.67 L173.34,510.08 L176.35,509.51 L179.37,508.96 L182.38,508.42 L185.40,507.90 L188.41,507.38 L191.43,506.88 L194.44,506.39 L197.46,505.91 L200.47,505.44 L203.49,504.97 L206.51,504.51 L209.52,504.05 L212.54,503.60 L215.55,503.15 L218.57,502.70 L221.58,502.25 L224.60,501.80 L227.61,501.35 L230.63,500.90 L233.64,500.44 L236.66,499.97 L239.67,499.50 L242.69,499.02 L245.70,498.53 L248.72,498.03 L251.73,497.52 L254.75,496.99 L257.76,496.46 L260.78,495.91 L263.79,495.34 L266.81,494.75 L269.83,494.15 L272.84,493.53 L275.86,492.88 L278.87,492.22" fill="none" stroke="#888" stroke-width="0.9" stroke-dasharray="1.2,1.2" transform="translate(0.6,1.1)"/>
<path d="M146.20,516.13 L149.22,515.36 L152.23,514.62 L155.25,513.91 L158.26,513.22 L161.28,512.55 L164.29,511.90 L167.31,511.28 L170.32,510.67 L173.34,510.08 L176.35,509.51 L179.37,508.96 L182.38,508.42 L185.40,507.90 L188.41,507.38 L191.43,506.88 L194.44,506.39 L197.46,505.91 L200.47,505.44 L203.49,504.97 L206.51,504.51 L209.52,504.05 L212.54,503.60 L215.55,503.15 L218.57,502.70 L221.58,502.25 L224.60,501.80 L227.61,501.35 L230.63,500.90 L233.64,500.44 L236.66,499.97 L239.67,499.50 L242.69,499.02 L245.70,498.53 L248.72,498.03 L251.73,497.52 L254.75,496.99 L257.76,496.46 L260.78,495.91 L263.79,495.34 L266.81,494.75 L269.83,494.15 L272.84,493.53 L275.86,492.88 L278.87,492.22 L281.89,491.53 L284.90,490.82 L287.92,490.09 L290.93,489.32 L293.95,488.53 L296.96,487.71 L299.98,486.87 L302.99,485.99 L306.01,485.08 L309.02,484.13 L312.04,483.15 L315.05,482.14 L318.07,481.09 L321.08,480.00 L324.10,478.88" fill="none" stroke="#00e000" stroke-width="1.7" stroke-linejoin="round"/>
<path d="M124.45,466.57 L128.06,465.03 L131.67,463.53 L135.28,462.07 L138.88,460.64 L142.49,459.23 L146.10,457.86 L149.71,456.51 L153.32,455.17 L156.93,453.86 L160.54,452.56 L164.14,451.28 L167.75,450.00 L171.36,448.74 L174.97,447.47 L178.58,446.21 L182.19,444.95 L185.79,443.68 L189.40,442.40 L193.01,441.12 L196.62,439.82 L200.23,438.51 L203.84,437.18 L207.45,435.83 L211.05,434.46 L214.66,433.06 L218.27,431.63 L221.88,430.19 L225.49,428.71 L229.10,427.21" fill="none" stroke="#888" stroke-width="0.9" stroke-dasharray="1.2,1.2" transform="translate(0.6,1.1)"/>
<path d="M102.80,476.74 L106.41,474.92 L110.02,473.15 L113.63,471.44 L117.23,469.77 L120.84,468.15 L124.45,466.57 L128.06,465.03 L131.67,463.53 L135.28,462.07 L138.88,460.64 L142.49,459.23 L146.10,457.86 L149.71,456.51 L153.32,455.17 L156.93,453.86 L160.54,452.56 L164.14,451.28 L167.75,450.00 L171.36,448.74 L174.97,447.47 L178.58,446.21 L182.19,444.95 L185.79,443.68 L189.40,442.40 L193.01,441.12 L196.62,439.82 L200.23,438.51 L203.84,437.18 L207.45,435.83 L211.05,434.46 L214.66,433.06 L218.27,431.63 L221.88,430.19 L225.49,428.71 L229.10,427.21 L232.71,425.69 L236.31,424.15 L239.92,422.58 L243.53,420.99 L247.14,419.38 L250.75,417.74 L254.36,416.08 L257.96,414.41 L261.57,412.71 L265.18,410.99 L268.79,409.25 L272.40,407.49 L276.01,405.71 L279.62,403.91 L283.22,402.09 L286.83,400.25 L290.44,398.40 L294.05,396.53 L297.66,394.64 L301.27,392.73 L304.87,390.81 L308.48,388.86 L312.09,386.91 L315.70,384.93" fill="none" stroke="#ff0000" stroke-width="1.7" stroke-linejoin="round"/>
<path d="M179.81,429.83 L182.42,428.68 L185.04,427.52 L187.66,426.37 L190.27,425.22 L192.89,424.08 L195.51,422.93 L198.12,421.78 L200.74,420.63 L203.36,419.48 L205.97,418.33 L208.59,417.17 L211.21,416.01 L213.83,414.84 L216.44,413.66 L219.06,412.48 L221.68,411.29 L224.29,410.09 L226.91,408.88 L229.53,407.66 L232.14,406.42 L234.76,405.18 L237.38,403.92 L239.99,402.64 L242.61,401.35 L245.23,400.05 L247.85,398.72 L250.46,397.38 L253.08,396.02 L255.70,394.64" fill="none" stroke="#888" stroke-width="0.9" stroke-dasharray="1.2,1.2" transform="translate(0.6,1.1)"/>
<path d="M132.70,452.38 L135.32,451.00 L137.93,449.64 L140.55,448.29 L143.17,446.97 L145.78,445.66 L148.40,444.37 L151.02,443.09 L153.64,441.83 L156.25,440.59 L158.87,439.35 L161.49,438.13 L164.10,436.92 L166.72,435.72 L169.34,434.53 L171.95,433.34 L174.57,432.17 L177.19,431.00 L179.81,429.83 L182.42,428.68 L185.04,427.52 L187.66,426.37 L190.27,425.22 L192.89,424.08 L195.51,422.93 L198.12,421.78 L200.74,420.63 L203.36,419.48 L205.97,418.33 L208.59,417.17 L211.21,416.01 L213.83,414.84 L216.44,413.66 L219.06,412.48 L221.68,411.29 L224.29,410.09 L226.91,408.88 L229.53,407.66 L232.14,406.42 L234.76,405.18 L237.38,403.92 L239.99,402.64 L242.61,401.35 L245.23,400.05 L247.85,398.72 L250.46,397.38 L253.08,396.02 L255.70,394.64 L258.31,393.23 L260.93,391.81 L263.55,390.36 L266.16,388.89 L268.78,387.40 L271.40,385.88 L274.02,384.33 L276.63,382.76 L279.25,381.16 L281.87,379.53 L284.48,377.87 L287.10,376.18" fill="none" stroke="#0000ff" stroke-width="1.7" stroke-linejoin="round"/>
<path d="M145.90,437.37 L147.75,436.07 L149.60,434.80 L151.45,433.55 L153.30,432.32 L155.15,431.11 L156.99,429.92 L158.84,428.74 L160.69,427.58 L162.54,426.44 L164.39,425.31 L166.24,424.20 L168.09,423.11 L169.94,422.02 L171.79,420.96 L173.64,419.90 L175.49,418.86 L177.34,417.83 L179.18,416.80 L181.03,415.79 L182.88,414.79 L184.73,413.80 L186.58,412.82 L188.43,411.84 L190.28,410.88 L192.13,409.92 L193.98,408.96 L195.83,408.01 L197.68,407.07 L199.53,406.12 L201.37,405.19 L203.22,404.25 L205.07,403.32 L206.92,402.39 L208.77,401.46 L210.62,400.53 L212.47,399.60 L214.32,398.67 L216.17,397.74 L218.02,396.81 L219.87,395.87 L221.72,394.93 L223.56,393.99 L225.41,393.04 L227.26,392.09 L229.11,391.13 L230.96,390.17 L232.81,389.19 L234.66,388.21 L236.51,387.23 L238.36,386.23 L240.21,385.22 L242.06,384.21 L243.91,383.18 L245.75,382.14 L247.60,381.09 L249.45,380.03 L251.30,378.95 L253.15,377.86 L255.00,376.76 L256.60,373.00" fill="none" stroke="#888" stroke-width="0.9" stroke-dasharray="1.2,1.2" transform="translate(0.6,1.1)"/>
<path d="M145.90,437.37 L147.75,436.07 L149.60,434.80 L151.45,433.55 L153.30,432.32 L155.15,431.11 L156.99,429.92 L158.84,428.74 L160.69,427.58 L162.54,426.44 L164.39,425.31 L166.24,424.20 L168.09,423.11 L169.94,422.02 L171.79,420.96 L173.64,419.90 L175.49,418.86 L177.34,417.83 L179.18,416.80 L181.03,415.79 L182.88,414.79 L184.73,413.80 L186.58,412.82 L188.43,411.84 L190.28,410.88 L192.13,409.92 L193.98,408.96 L195.83,408.01 L197.68,407.07 L199.53,406.12 L201.37,405.19 L203.22,404.25 L205.07,403.32 L206.92,402.39 L208.77,401.46 L210.62,400.53 L212.47,399.60 L214.32,398.67 L216.17,397.74 L218.02,396.81 L219.87,395.87 L221.72,394.93 L223.56,393.99 L225.41,393.04 L227.26,392.09 L229.11,391.13 L230.96,390.17 L232.81,389.19 L234.66,388.21 L236.51,387.23 L238.36,386.23 L240.21,385.22 L242.06,384.21 L243.91,383.18 L245.75,382.14 L247.60,381.09 L249.45,380.03 L251.30,378.95 L253.15,377.86 L255.00,376.76" fill="none" stroke="#000000" stroke-width="1.7" stroke-linejoin="round"/>
<rect x="57.5" y="328.0" width="270.0" height="217.5" fill="none" stroke="#555" stroke-width="1"/>
<line x1="53.5" y1="545.55" x2="57.5" y2="545.55" stroke="#555" stroke-width="1"/>
<text x="48.5" y="550.15" font-size="13.4" text-anchor="end">−0.1</text>
<line x1="55.3" y1="531.02" x2="57.5" y2="531.02" stroke="#555" stroke-width="1"/>
<line x1="53.5" y1="516.50" x2="57.5" y2="516.50" stroke="#555" stroke-width="1"/>
<text x="48.5" y="521.10" font-size="13.4" text-anchor="end">0.0</text>
<line x1="55.3" y1="501.98" x2="57.5" y2="501.98" stroke="#555" stroke-width="1"/>
<line x1="53.5" y1="487.45" x2="57.5" y2="487.45" stroke="#555" stroke-width="1"/>
<text x="48.5" y="492.05" font-size="13.4" text-anchor="end">0.1</text>
<line x1="55.3" y1="472.93" x2="57.5" y2="472.93" stroke="#555" stroke-width="1"/>
<line x1="53.5" y1="458.40" x2="57.5" y2="458.40" stroke="#555" stroke-width="1"/>
<text x="48.5" y="463.00" font-size="13.4" text-anchor="end">0.2</text>
<line x1="55.3" y1="443.88" x2="57.5" y2="443.88" stroke="#555" stroke-width="1"/>
<line x1="53.5" y1="429.35" x2="57.5" y2="429.35" stroke="#555" stroke-width="1"/>
<text x="48.5" y="433.95" font-size="13.4" text-anchor="end">0.3</text>
<line x1="55.3" y1="414.82" x2="57.5" y2="414.82" stroke="#555" stroke-width="1"/>
<line x1="53.5" y1="400.30" x2="57.5" y2="400.30" stroke="#555" stroke-width="1"/>
<text x="48.5" y="404.90" font-size="13.4" text-anchor="end">0.4</text>
<line x1="55.3" y1="385.77" x2="57.5" y2="385.77" stroke="#555" stroke-width="1"/>
<line x1="53.5" y1="371.25" x2="57.5" y2="371.25" stroke="#555" stroke-width="1"/>
<text x="48.5" y="375.85" font-size="13.4" text-anchor="end">0.5</text>
<line x1="55.3" y1="356.73" x2="57.5" y2="356.73" stroke="#555" stroke-width="1"/>
<line x1="53.5" y1="342.20" x2="57.5" y2="342.20" stroke="#555" stroke-width="1"/>
<text x="48.5" y="346.80" font-size="13.4" text-anchor="end">0.6</text>
<line x1="55.3" y1="327.67" x2="57.5" y2="327.67" stroke="#555" stroke-width="1"/>
<line x1="57.50" y1="545.5" x2="57.50" y2="549.5" stroke="#555" stroke-width="1"/>
<text x="57.50" y="564.5" font-size="13.4" text-anchor="middle">−1.0</text>
<line x1="75.50" y1="545.5" x2="75.50" y2="547.7" stroke="#555" stroke-width="1"/>
<line x1="93.50" y1="545.5" x2="93.50" y2="549.5" stroke="#555" stroke-width="1"/>
<text x="93.50" y="564.5" font-size="13.4" text-anchor="middle">−0.5</text>
<line x1="111.50" y1="545.5" x2="111.50" y2="547.7" stroke="#555" stroke-width="1"/>
<line x1="129.50" y1="545.5" x2="129.50" y2="549.5" stroke="#555" stroke-width="1"/>
<text x="129.50" y="564.5" font-size="13.4" text-anchor="middle">0.0</text>
<line x1="147.50" y1="545.5" x2="147.50" y2="547.7" stroke="#555" stroke-width="1"/>
<line x1="165.50" y1="545.5" x2="165.50" y2="549.5" stroke="#555" stroke-width="1"/>
<text x="165.50" y="564.5" font-size="13.4" text-anchor="middle">0.5</text>
<line x1="183.50" y1="545.5" x2="183.50" y2="547.7" stroke="#555" stroke-width="1"/>
<line x1="201.50" y1="545.5" x2="201.50" y2="549.5" stroke="#555" stroke-width="1"/>
<text x="201.50" y="564.5" font-size="13.4" text-anchor="middle">1.0</text>
<line x1="219.50" y1="545.5" x2="219.50" y2="547.7" stroke="#555" stroke-width="1"/>
<line x1="237.50" y1="545.5" x2="237.50" y2="549.5" stroke="#555" stroke-width="1"/>
<text x="237.50" y="564.5" font-size="13.4" text-anchor="middle">1.5</text>
<line x1="255.50" y1="545.5" x2="255.50" y2="547.7" stroke="#555" stroke-width="1"/>
<line x1="273.50" y1="545.5" x2="273.50" y2="549.5" stroke="#555" stroke-width="1"/>
<text x="273.50" y="564.5" font-size="13.4" text-anchor="middle">2.0</text>
<line x1="291.50" y1="545.5" x2="291.50" y2="547.7" stroke="#555" stroke-width="1"/>
<line x1="309.50" y1="545.5" x2="309.50" y2="549.5" stroke="#555" stroke-width="1"/>
<text x="309.50" y="564.5" font-size="13.4" text-anchor="middle">2.5</text>
<line x1="327.50" y1="545.5" x2="327.50" y2="547.7" stroke="#555" stroke-width="1"/>
<line x1="59.4" y1="335.2" x2="85.7" y2="335.2" stroke="#000" stroke-width="1.7"/>
<text x="90.6" y="338.6" font-size="9.4">Basel plane in pure MoS<tspan font-size="6.5" dy="2.2">2</tspan></text>
<line x1="59.4" y1="351.3" x2="85.7" y2="351.3" stroke="#0000ff" stroke-width="1.7"/>
<text x="90.6" y="354.7" font-size="9.4">Single-GB in pure MoS<tspan font-size="6.5" dy="2.2">2</tspan></text>
<line x1="59.4" y1="367.4" x2="85.7" y2="367.4" stroke="#ff0000" stroke-width="1.7"/>
<text x="90.6" y="370.8" font-size="9.4">Spontaneous strained nano-channel</text>
<line x1="59.4" y1="381.9" x2="85.7" y2="381.9" stroke="#00e000" stroke-width="1.7"/>
<text x="90.6" y="385.3" font-size="9.4">Pt</text>
<text x="98.9" y="423.1" font-size="9.4" fill="#000">139 mV dec<tspan font-size="6.5" dy="-4">−1</tspan></text>
<text x="73" y="451.6" font-size="9.4" fill="#0000ff">108 mV dec<tspan font-size="6.5" dy="-4">−1</tspan></text>
<text x="126.6" y="477.5" font-size="9.4" fill="#ff0000">90 mV dec<tspan font-size="6.5" dy="-4">−1</tspan></text>
<text x="110.6" y="505.9" font-size="9.4" fill="#00e000">37 mV dec<tspan font-size="6.5" dy="-4">−1</tspan></text>
<text y="585.4" font-size="13.4"><tspan x="136">Log</tspan><tspan dx="0.6">|</tspan><tspan dx="0.2">(mA cm</tspan><tspan dx="0.6" y="579.8" font-size="9.2">−2</tspan><tspan dx="0.6" y="589.6" font-size="9.2">geo</tspan><tspan dx="0" y="585.4">)</tspan><tspan dx="1.2">|</tspan></text>
<text transform="translate(10.8,438) rotate(-90)" font-size="13.4" text-anchor="middle">Onset potential (V <tspan font-style="italic">vs</tspan> RHE)</text>
<line x1="440.77" y1="327.1" x2="440.77" y2="545.3" stroke="#e2e2e2" stroke-width="0.7" stroke-dasharray="1.5,1.5"/>
<line x1="479.44" y1="327.1" x2="479.44" y2="545.3" stroke="#e2e2e2" stroke-width="0.7" stroke-dasharray="1.5,1.5"/>
<line x1="518.11" y1="327.1" x2="518.11" y2="545.3" stroke="#e2e2e2" stroke-width="0.7" stroke-dasharray="1.5,1.5"/>
<line x1="556.78" y1="327.1" x2="556.78" y2="545.3" stroke="#e2e2e2" stroke-width="0.7" stroke-dasharray="1.5,1.5"/>
<line x1="595.45" y1="327.1" x2="595.45" y2="545.3" stroke="#e2e2e2" stroke-width="0.7" stroke-dasharray="1.5,1.5"/>
<line x1="634.12" y1="327.1" x2="634.12" y2="545.3" stroke="#e2e2e2" stroke-width="0.7" stroke-dasharray="1.5,1.5"/>
<line x1="402.1" y1="521.06" x2="672.8" y2="521.06" stroke="#e2e2e2" stroke-width="0.7" stroke-dasharray="1.5,1.5"/>
<line x1="402.1" y1="496.81" x2="672.8" y2="496.81" stroke="#e2e2e2" stroke-width="0.7" stroke-dasharray="1.5,1.5"/>
<line x1="402.1" y1="472.57" x2="672.8" y2="472.57" stroke="#e2e2e2" stroke-width="0.7" stroke-dasharray="1.5,1.5"/>
<line x1="402.1" y1="448.32" x2="672.8" y2="448.32" stroke="#e2e2e2" stroke-width="0.7" stroke-dasharray="1.5,1.5"/>
<line x1="402.1" y1="424.08" x2="672.8" y2="424.08" stroke="#e2e2e2" stroke-width="0.7" stroke-dasharray="1.5,1.5"/>
<line x1="402.1" y1="399.84" x2="672.8" y2="399.84" stroke="#e2e2e2" stroke-width="0.7" stroke-dasharray="1.5,1.5"/>
<line x1="402.1" y1="375.59" x2="672.8" y2="375.59" stroke="#e2e2e2" stroke-width="0.7" stroke-dasharray="1.5,1.5"/>
<line x1="402.1" y1="351.35" x2="672.8" y2="351.35" stroke="#e2e2e2" stroke-width="0.7" stroke-dasharray="1.5,1.5"/>
<path d="M500.7,449.4 L502.3,449.6 L503.8,449.9 L505.3,450.4 L506.7,450.9 L508.0,451.5 L509.3,452.2 L510.5,452.9 L511.7,453.6 L512.9,454.3 L514.0,455.0 L515.1,455.6 L516.1,456.3 L517.0,456.9 L517.9,457.5 L518.8,458.2 L519.6,458.9 L520.4,459.7 L521.2,460.5 L521.9,461.5 L522.6,462.5 L523.3,463.7 L524.0,465.0 L524.6,466.5 L525.3,468.0 L525.9,469.6 L526.4,471.2 L526.9,472.8 L527.2,474.3 L527.5,475.8 L527.7,477.1 L527.8,478.3 L527.7,479.5 L527.5,480.7 L527.3,481.8 L527.0,482.9 L526.6,483.9 L526.2,484.9 L525.8,486.0 L525.4,487.0 L525.0,488.0 L524.6,489.0 L524.3,489.9 L524.0,490.8 L523.7,491.6 L523.4,492.5 L522.9,493.4 L522.4,494.3 L521.7,495.3 L520.8,496.4 L519.7,497.6 L518.4,499.0 L516.9,500.5 L515.2,502.2 L513.4,503.9 L511.4,505.7 L509.4,507.5 L507.3,509.2 L505.1,510.8 L502.9,512.3 L500.7,513.6 L498.5,514.8 L496.1,515.9 L493.7,517.0 L491.3,517.9 L488.8,518.8 L486.2,519.6 L483.6,520.3 L481.0,520.9 L478.5,521.3 L475.9,521.6 L473.2,521.8 L470.4,521.8 L467.5,521.7 L464.6,521.5 L461.7,521.2 L458.8,520.8 L456.1,520.3 L453.7,519.6 L451.5,518.9 L449.6,518.0 L448.0,517.0 L446.7,515.9 L445.6,514.7 L444.7,513.3 L443.9,511.8 L443.4,510.3 L442.9,508.7 L442.6,507.0 L442.4,505.2 L442.3,503.4 L442.3,501.5 L442.5,499.4 L442.8,497.3 L443.2,495.0 L443.7,492.7 L444.4,490.4 L445.2,488.1 L446.1,485.8 L447.0,483.6 L448.1,481.5 L449.3,479.4 L450.6,477.4 L452.1,475.3 L453.7,473.3 L455.4,471.3 L457.2,469.3 L458.9,467.5 L460.7,465.7 L462.5,464.0 L464.2,462.5 L465.9,461.1 L467.6,459.8 L469.3,458.6 L471.0,457.4 L472.8,456.4 L474.5,455.4 L476.3,454.5 L478.1,453.7 L479.9,453.0 L481.7,452.3 L483.6,451.7 L485.5,451.1 L487.5,450.6 L489.5,450.2 L491.5,449.9 L493.4,449.6 L495.4,449.4 L497.2,449.3 L499.0,449.3 Z" fill="#f07070" fill-opacity="0.33"/>
<path d="M524.6,403.8 L526.7,403.8 L528.9,403.8 L531.0,404.1 L533.2,404.4 L535.3,404.9 L537.4,405.4 L539.5,406.0 L541.4,406.6 L543.3,407.3 L545.0,408.0 L546.6,408.7 L548.2,409.5 L549.6,410.4 L551.0,411.2 L552.3,412.2 L553.5,413.2 L554.7,414.3 L555.8,415.5 L556.9,416.7 L558.0,418.0 L559.1,419.4 L560.1,420.9 L561.1,422.5 L562.1,424.2 L563.1,425.9 L563.9,427.6 L564.6,429.5 L565.2,431.3 L565.7,433.1 L566.0,435.0 L566.1,436.9 L566.1,438.9 L566.0,441.0 L565.8,443.2 L565.4,445.3 L565.0,447.4 L564.4,449.5 L563.7,451.5 L562.9,453.3 L562.0,455.0 L561.0,456.5 L559.8,457.9 L558.5,459.2 L557.1,460.4 L555.6,461.6 L554.0,462.7 L552.4,463.7 L550.6,464.8 L548.8,465.9 L547.0,467.0 L545.1,468.2 L543.0,469.4 L540.9,470.6 L538.6,471.9 L536.3,473.1 L534.0,474.2 L531.7,475.3 L529.4,476.3 L527.2,477.2 L525.0,478.0 L522.9,478.7 L520.8,479.3 L518.8,479.9 L516.7,480.4 L514.7,480.8 L512.7,481.0 L510.7,481.2 L508.8,481.3 L506.9,481.2 L505.0,481.0 L503.1,480.6 L501.2,480.1 L499.4,479.4 L497.5,478.6 L495.7,477.8 L493.9,476.8 L492.3,475.7 L490.7,474.5 L489.3,473.3 L488.0,472.0 L486.9,470.6 L485.9,469.1 L485.0,467.5 L484.2,465.8 L483.5,464.0 L482.9,462.2 L482.4,460.4 L481.9,458.5 L481.5,456.7 L481.2,455.0 L480.9,453.3 L480.8,451.6 L480.7,449.8 L480.7,448.1 L480.7,446.4 L480.9,444.7 L481.1,443.0 L481.3,441.3 L481.6,439.6 L482.0,438.0 L482.4,436.4 L482.9,434.8 L483.4,433.3 L484.0,431.7 L484.7,430.2 L485.4,428.7 L486.2,427.3 L487.1,425.8 L488.0,424.4 L489.0,423.0 L490.1,421.6 L491.2,420.2 L492.4,418.9 L493.7,417.5 L495.1,416.2 L496.5,415.0 L498.0,413.7 L499.6,412.6 L501.3,411.5 L503.0,410.5 L504.9,409.5 L506.9,408.6 L509.0,407.7 L511.2,406.9 L513.4,406.1 L515.7,405.4 L518.0,404.8 L520.2,404.3 L522.5,404.0 Z" fill="#7878f0" fill-opacity="0.3"/>
<path d="M624.7,377.2 L627.3,377.4 L630.1,377.8 L632.9,378.3 L635.7,379.0 L638.5,379.8 L641.2,380.7 L643.8,381.6 L646.2,382.6 L648.4,383.7 L650.4,384.7 L652.1,385.8 L653.6,387.0 L655.0,388.2 L656.1,389.6 L657.2,390.9 L658.1,392.4 L658.9,393.8 L659.7,395.2 L660.3,396.6 L661.0,398.0 L661.6,399.4 L662.1,400.8 L662.5,402.2 L662.8,403.6 L663.1,405.0 L663.3,406.4 L663.3,407.9 L663.4,409.3 L663.3,410.6 L663.2,412.0 L663.0,413.4 L662.7,414.7 L662.3,416.1 L661.8,417.5 L661.2,418.8 L660.6,420.1 L660.0,421.4 L659.3,422.7 L658.7,423.9 L658.0,425.0 L657.4,426.0 L657.0,426.9 L656.5,427.8 L656.1,428.6 L655.6,429.3 L655.0,430.1 L654.2,430.9 L653.2,431.8 L652.0,432.8 L650.4,434.0 L648.4,435.3 L646.1,436.8 L643.5,438.3 L640.6,440.0 L637.6,441.7 L634.5,443.4 L631.4,445.1 L628.4,446.7 L625.5,448.3 L622.8,449.7 L620.3,451.1 L617.9,452.6 L615.5,454.1 L613.2,455.5 L610.9,456.9 L608.7,458.2 L606.4,459.3 L604.0,460.3 L601.6,461.1 L599.1,461.6 L596.5,461.9 L593.7,462.0 L590.8,461.9 L587.9,461.7 L584.9,461.3 L582.0,460.8 L579.2,460.2 L576.4,459.4 L573.9,458.5 L571.5,457.6 L569.2,456.5 L567.0,455.2 L564.8,453.8 L562.8,452.3 L560.8,450.6 L559.0,448.9 L557.3,447.1 L555.9,445.4 L554.7,443.6 L553.8,441.9 L553.1,440.2 L552.7,438.6 L552.5,437.0 L552.4,435.3 L552.6,433.6 L552.9,431.9 L553.4,430.1 L554.1,428.2 L555.0,426.2 L556.0,424.1 L557.2,421.8 L558.7,419.3 L560.4,416.7 L562.4,414.0 L564.4,411.2 L566.6,408.4 L568.8,405.7 L571.1,403.1 L573.3,400.7 L575.5,398.5 L577.7,396.5 L579.9,394.5 L582.2,392.7 L584.5,391.0 L586.9,389.3 L589.3,387.8 L591.7,386.4 L594.2,385.0 L596.6,383.8 L599.1,382.7 L601.6,381.7 L604.1,380.7 L606.6,379.9 L609.2,379.1 L611.8,378.5 L614.4,378.0 L616.9,377.6 L619.5,377.3 L622.1,377.2 Z" fill="#808080" fill-opacity="0.4"/>
<g stroke="#555" stroke-width="0.8" fill="none"><line x1="627" y1="387.4" x2="664.4" y2="387.4"/><line x1="637.4" y1="368.7" x2="637.4" y2="399.5"/><line x1="627" y1="384.4" x2="627" y2="390.4"/><line x1="664.4" y1="384.4" x2="664.4" y2="390.4"/><line x1="634.4" y1="368.7" x2="640.4" y2="368.7"/><line x1="634.4" y1="399.5" x2="640.4" y2="399.5"/></g>
<g stroke="#555" stroke-width="0.8" fill="none"><line x1="580.4" y1="404.5" x2="618.7" y2="404.5"/><line x1="595.2" y1="383.6" x2="595.2" y2="423.2"/><line x1="580.4" y1="401.5" x2="580.4" y2="407.5"/><line x1="618.7" y1="401.5" x2="618.7" y2="407.5"/><line x1="592.2" y1="383.6" x2="598.2" y2="383.6"/><line x1="592.2" y1="423.2" x2="598.2" y2="423.2"/></g>
<g stroke="#555" stroke-width="0.8" fill="none"><line x1="550.8" y1="421.5" x2="590.5" y2="421.5"/><line x1="568.3" y1="406.9" x2="568.3" y2="436.9"/><line x1="550.8" y1="418.5" x2="550.8" y2="424.5"/><line x1="590.5" y1="418.5" x2="590.5" y2="424.5"/><line x1="565.3" y1="406.9" x2="571.3" y2="406.9"/><line x1="565.3" y1="436.9" x2="571.3" y2="436.9"/></g>
<g stroke="#555" stroke-width="0.8" fill="none"><line x1="534.3" y1="433.6" x2="575.6" y2="433.6"/><line x1="561.5" y1="414.5" x2="561.5" y2="455.1"/><line x1="534.3" y1="430.6" x2="534.3" y2="436.6"/><line x1="575.6" y1="430.6" x2="575.6" y2="436.6"/><line x1="558.5" y1="414.5" x2="564.5" y2="414.5"/><line x1="558.5" y1="455.1" x2="564.5" y2="455.1"/></g>
<g stroke="#555" stroke-width="0.8" fill="none"><line x1="570.5" y1="438.8" x2="620.4" y2="438.8"/><line x1="593.7" y1="422.5" x2="593.7" y2="458.1"/><line x1="570.5" y1="435.8" x2="570.5" y2="441.8"/><line x1="620.4" y1="435.8" x2="620.4" y2="441.8"/><line x1="590.7" y1="422.5" x2="596.7" y2="422.5"/><line x1="590.7" y1="458.1" x2="596.7" y2="458.1"/></g>
<g stroke="#555" stroke-width="0.8" fill="none"><line x1="613.4" y1="425.3" x2="666.6" y2="425.3"/><line x1="631.5" y1="396.6" x2="631.5" y2="447.1"/><line x1="613.4" y1="422.3" x2="613.4" y2="428.3"/><line x1="666.6" y1="422.3" x2="666.6" y2="428.3"/><line x1="628.5" y1="396.6" x2="634.5" y2="396.6"/><line x1="628.5" y1="447.1" x2="634.5" y2="447.1"/></g>
<g stroke="#7070ff" stroke-width="0.8" fill="none"><line x1="502.5" y1="422.6" x2="551.8" y2="422.6"/><line x1="518.2" y1="409.1" x2="518.2" y2="436"/><line x1="502.5" y1="419.6" x2="502.5" y2="425.6"/><line x1="551.8" y1="419.6" x2="551.8" y2="425.6"/><line x1="515.2" y1="409.1" x2="521.2" y2="409.1"/><line x1="515.2" y1="436" x2="521.2" y2="436"/></g>
<g stroke="#7070ff" stroke-width="0.8" fill="none"><line x1="534.1" y1="437.1" x2="572" y2="437.1"/><line x1="549.0" y1="419.7" x2="549.0" y2="459.3"/><line x1="534.1" y1="434.1" x2="534.1" y2="440.1"/><line x1="572" y1="434.1" x2="572" y2="440.1"/><line x1="546.0" y1="419.7" x2="552.0" y2="419.7"/><line x1="546.0" y1="459.3" x2="552.0" y2="459.3"/></g>
<g stroke="#7070ff" stroke-width="0.8" fill="none"><line x1="513.7" y1="445.5" x2="556.4" y2="445.5"/><line x1="532.2" y1="431.2" x2="532.2" y2="471.2"/><line x1="513.7" y1="442.5" x2="513.7" y2="448.5"/><line x1="556.4" y1="442.5" x2="556.4" y2="448.5"/><line x1="529.2" y1="431.2" x2="535.2" y2="431.2"/><line x1="529.2" y1="471.2" x2="535.2" y2="471.2"/></g>
<g stroke="#7070ff" stroke-width="0.8" fill="none"><line x1="482.1" y1="449.2" x2="518.3" y2="449.2"/><line x1="498.0" y1="433.7" x2="498.0" y2="463"/><line x1="482.1" y1="446.2" x2="482.1" y2="452.2"/><line x1="518.3" y1="446.2" x2="518.3" y2="452.2"/><line x1="495.0" y1="433.7" x2="501.0" y2="433.7"/><line x1="495.0" y1="463" x2="501.0" y2="463"/></g>
<g stroke="#7070ff" stroke-width="0.8" fill="none"><line x1="471.5" y1="461.3" x2="506.2" y2="461.3"/><line x1="490.0" y1="443.5" x2="490.0" y2="478.8"/><line x1="471.5" y1="458.3" x2="471.5" y2="464.3"/><line x1="506.2" y1="458.3" x2="506.2" y2="464.3"/><line x1="487.0" y1="443.5" x2="493.0" y2="443.5"/><line x1="487.0" y1="478.8" x2="493.0" y2="478.8"/></g>
<g stroke="#7070ff" stroke-width="0.8" fill="none"><line x1="484.9" y1="470.0" x2="522" y2="470.0"/><line x1="502.3" y1="456" x2="502.3" y2="487"/><line x1="484.9" y1="467.0" x2="484.9" y2="473.0"/><line x1="522" y1="467.0" x2="522" y2="473.0"/><line x1="499.3" y1="456" x2="505.3" y2="456"/><line x1="499.3" y1="487" x2="505.3" y2="487"/></g>
<g stroke="#ff7070" stroke-width="0.8" fill="none"><line x1="441.8" y1="502.7" x2="488.7" y2="502.7"/><line x1="465.4" y1="483.7" x2="465.4" y2="518.4"/><line x1="441.8" y1="499.7" x2="441.8" y2="505.7"/><line x1="488.7" y1="499.7" x2="488.7" y2="505.7"/><line x1="462.4" y1="483.7" x2="468.4" y2="483.7"/><line x1="462.4" y1="518.4" x2="468.4" y2="518.4"/></g>
<g stroke="#ff7070" stroke-width="0.8" fill="none"><line x1="453.8" y1="494.3" x2="495.1" y2="494.3"/><line x1="471.8" y1="475" x2="471.8" y2="510"/><line x1="453.8" y1="491.3" x2="453.8" y2="497.3"/><line x1="495.1" y1="491.3" x2="495.1" y2="497.3"/><line x1="468.8" y1="475" x2="474.8" y2="475"/><line x1="468.8" y1="510" x2="474.8" y2="510"/></g>
<g stroke="#ff7070" stroke-width="0.8" fill="none"><line x1="472.3" y1="478.5" x2="506.5" y2="478.5"/><line x1="483.3" y1="467.2" x2="483.3" y2="494.3"/><line x1="472.3" y1="475.5" x2="472.3" y2="481.5"/><line x1="506.5" y1="475.5" x2="506.5" y2="481.5"/><line x1="480.3" y1="467.2" x2="486.3" y2="467.2"/><line x1="480.3" y1="494.3" x2="486.3" y2="494.3"/></g>
<g stroke="#ff7070" stroke-width="0.8" fill="none"><line x1="481.1" y1="501.9" x2="523" y2="501.9"/><line x1="501.9" y1="483.7" x2="501.9" y2="512.3"/><line x1="481.1" y1="498.9" x2="481.1" y2="504.9"/><line x1="523" y1="498.9" x2="523" y2="504.9"/><line x1="498.9" y1="483.7" x2="504.9" y2="483.7"/><line x1="498.9" y1="512.3" x2="504.9" y2="512.3"/></g>
<g stroke="#ff7070" stroke-width="0.8" fill="none"><line x1="483.7" y1="466.3" x2="531.8" y2="466.3"/><line x1="506.6" y1="444.4" x2="506.6" y2="483.7"/><line x1="483.7" y1="463.3" x2="483.7" y2="469.3"/><line x1="531.8" y1="463.3" x2="531.8" y2="469.3"/><line x1="503.6" y1="444.4" x2="509.6" y2="444.4"/><line x1="503.6" y1="483.7" x2="509.6" y2="483.7"/></g>
<rect x="632.8" y="382.8" width="9.2" height="9.2" fill="#000"/>
<rect x="590.6" y="399.9" width="9.2" height="9.2" fill="#000"/>
<rect x="563.7" y="416.9" width="9.2" height="9.2" fill="#000"/>
<rect x="556.9" y="429.0" width="9.2" height="9.2" fill="#000"/>
<rect x="589.1" y="434.2" width="9.2" height="9.2" fill="#000"/>
<rect x="626.9" y="420.7" width="9.2" height="9.2" fill="#000"/>
<rect x="513.6" y="418.0" width="9.2" height="9.2" fill="#0000ff"/>
<rect x="544.4" y="432.5" width="9.2" height="9.2" fill="#0000ff"/>
<rect x="527.6" y="440.9" width="9.2" height="9.2" fill="#0000ff"/>
<rect x="493.4" y="444.6" width="9.2" height="9.2" fill="#0000ff"/>
<rect x="485.4" y="456.7" width="9.2" height="9.2" fill="#0000ff"/>
<rect x="497.7" y="465.4" width="9.2" height="9.2" fill="#0000ff"/>
<rect x="460.8" y="498.1" width="9.2" height="9.2" fill="#ff0000"/>
<rect x="467.2" y="489.7" width="9.2" height="9.2" fill="#ff0000"/>
<rect x="478.7" y="473.9" width="9.2" height="9.2" fill="#ff0000"/>
<rect x="497.3" y="497.3" width="9.2" height="9.2" fill="#ff0000"/>
<rect x="502.0" y="461.7" width="9.2" height="9.2" fill="#ff0000"/>
<rect x="402.1" y="327.1" width="270.69999999999993" height="218.19999999999993" fill="none" stroke="#555" stroke-width="1"/>
<line x1="398.1" y1="545.30" x2="402.1" y2="545.30" stroke="#555" stroke-width="1"/>
<text x="393.1" y="549.90" font-size="13.4" text-anchor="end">40</text>
<line x1="399.90000000000003" y1="533.18" x2="402.1" y2="533.18" stroke="#555" stroke-width="1"/>
<line x1="398.1" y1="521.06" x2="402.1" y2="521.06" stroke="#555" stroke-width="1"/>
<text x="393.1" y="525.66" font-size="13.4" text-anchor="end">60</text>
<line x1="399.90000000000003" y1="508.93" x2="402.1" y2="508.93" stroke="#555" stroke-width="1"/>
<line x1="398.1" y1="496.81" x2="402.1" y2="496.81" stroke="#555" stroke-width="1"/>
<text x="393.1" y="501.41" font-size="13.4" text-anchor="end">80</text>
<line x1="399.90000000000003" y1="484.69" x2="402.1" y2="484.69" stroke="#555" stroke-width="1"/>
<line x1="398.1" y1="472.57" x2="402.1" y2="472.57" stroke="#555" stroke-width="1"/>
<text x="393.1" y="477.17" font-size="13.4" text-anchor="end">100</text>
<line x1="399.90000000000003" y1="460.45" x2="402.1" y2="460.45" stroke="#555" stroke-width="1"/>
<line x1="398.1" y1="448.32" x2="402.1" y2="448.32" stroke="#555" stroke-width="1"/>
<text x="393.1" y="452.92" font-size="13.4" text-anchor="end">120</text>
<line x1="399.90000000000003" y1="436.20" x2="402.1" y2="436.20" stroke="#555" stroke-width="1"/>
<line x1="398.1" y1="424.08" x2="402.1" y2="424.08" stroke="#555" stroke-width="1"/>
<text x="393.1" y="428.68" font-size="13.4" text-anchor="end">140</text>
<line x1="399.90000000000003" y1="411.96" x2="402.1" y2="411.96" stroke="#555" stroke-width="1"/>
<line x1="398.1" y1="399.84" x2="402.1" y2="399.84" stroke="#555" stroke-width="1"/>
<text x="393.1" y="404.44" font-size="13.4" text-anchor="end">160</text>
<line x1="399.90000000000003" y1="387.71" x2="402.1" y2="387.71" stroke="#555" stroke-width="1"/>
<line x1="398.1" y1="375.59" x2="402.1" y2="375.59" stroke="#555" stroke-width="1"/>
<text x="393.1" y="380.19" font-size="13.4" text-anchor="end">180</text>
<line x1="399.90000000000003" y1="363.47" x2="402.1" y2="363.47" stroke="#555" stroke-width="1"/>
<line x1="398.1" y1="351.35" x2="402.1" y2="351.35" stroke="#555" stroke-width="1"/>
<text x="393.1" y="355.95" font-size="13.4" text-anchor="end">200</text>
<line x1="399.90000000000003" y1="339.23" x2="402.1" y2="339.23" stroke="#555" stroke-width="1"/>
<line x1="398.1" y1="327.10" x2="402.1" y2="327.10" stroke="#555" stroke-width="1"/>
<text x="393.1" y="331.70" font-size="13.4" text-anchor="end">220</text>
<line x1="402.10" y1="545.3" x2="402.10" y2="549.3" stroke="#555" stroke-width="1"/>
<text x="402.10" y="564.8" font-size="13.4" text-anchor="middle">0.05</text>
<line x1="421.44" y1="545.3" x2="421.44" y2="547.5" stroke="#555" stroke-width="1"/>
<line x1="440.77" y1="545.3" x2="440.77" y2="549.3" stroke="#555" stroke-width="1"/>
<text x="440.77" y="564.8" font-size="13.4" text-anchor="middle">0.10</text>
<line x1="460.11" y1="545.3" x2="460.11" y2="547.5" stroke="#555" stroke-width="1"/>
<line x1="479.44" y1="545.3" x2="479.44" y2="549.3" stroke="#555" stroke-width="1"/>
<text x="479.44" y="564.8" font-size="13.4" text-anchor="middle">0.15</text>
<line x1="498.77" y1="545.3" x2="498.77" y2="547.5" stroke="#555" stroke-width="1"/>
<line x1="518.11" y1="545.3" x2="518.11" y2="549.3" stroke="#555" stroke-width="1"/>
<text x="518.11" y="564.8" font-size="13.4" text-anchor="middle">0.20</text>
<line x1="537.45" y1="545.3" x2="537.45" y2="547.5" stroke="#555" stroke-width="1"/>
<line x1="556.78" y1="545.3" x2="556.78" y2="549.3" stroke="#555" stroke-width="1"/>
<text x="556.78" y="564.8" font-size="13.4" text-anchor="middle">0.25</text>
<line x1="576.12" y1="545.3" x2="576.12" y2="547.5" stroke="#555" stroke-width="1"/>
<line x1="595.45" y1="545.3" x2="595.45" y2="549.3" stroke="#555" stroke-width="1"/>
<text x="595.45" y="564.8" font-size="13.4" text-anchor="middle">0.30</text>
<line x1="614.79" y1="545.3" x2="614.79" y2="547.5" stroke="#555" stroke-width="1"/>
<line x1="634.12" y1="545.3" x2="634.12" y2="549.3" stroke="#555" stroke-width="1"/>
<text x="634.12" y="564.8" font-size="13.4" text-anchor="middle">0.35</text>
<line x1="653.46" y1="545.3" x2="653.46" y2="547.5" stroke="#555" stroke-width="1"/>
<line x1="672.79" y1="545.3" x2="672.79" y2="549.3" stroke="#555" stroke-width="1"/>
<text x="672.79" y="564.8" font-size="13.4" text-anchor="middle">0.40</text>
<rect x="414.6" y="333.3" width="9.6" height="9.6" fill="#000"/>
<text x="428.3" y="341.5" font-size="9.4">Basel plane in pure MoS<tspan font-size="6.5" dy="2.2">2</tspan></text>
<rect x="414.6" y="349.4" width="9.6" height="9.6" fill="#0000ff"/>
<text x="428.3" y="357.6" font-size="9.4">Single-GB in pure MoS<tspan font-size="6.5" dy="2.2">2</tspan></text>
<rect x="414.6" y="364.8" width="9.6" height="9.6" fill="#ff0000"/>
<text x="428.3" y="373.0" font-size="9.4">Spontaneous strained nano-channel</text>
<text x="536.3" y="584.7" font-size="13.4" text-anchor="middle">Onset potential (V <tspan font-style="italic">vs</tspan> RHE)</text>
<text transform="translate(361.5,437.3) rotate(-90)" font-size="13.4" text-anchor="middle">Tafel slop (mV dec<tspan font-size="8.5" dy="-5">−1</tspan><tspan dy="5">)</tspan></text>
<text x="0.2" y="13.8" font-size="20" font-weight="bold">a</text>
<text x="344.6" y="13.8" font-size="20" font-weight="bold">b</text>
<text x="0.6" y="328.3" font-size="20" font-weight="bold">c</text>
<text x="344.4" y="328.3" font-size="20" font-weight="bold">d</text>
<text x="79.3" y="18.8" font-size="13.4">Reference electrode</text>
</svg>
</body></html>
